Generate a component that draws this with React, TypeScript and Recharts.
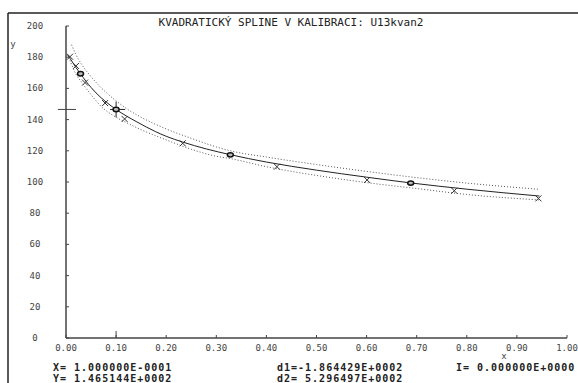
import React from 'react';
import { ComposedChart, Line, Scatter, XAxis, YAxis, ReferenceLine } from 'recharts';

// Fitted quadratic spline (solid)
const splineX = [0.003, 0.01, 0.02, 0.029, 0.04, 0.05, 0.06, 0.07, 0.08, 0.09, 0.1, 0.12, 0.14, 0.16, 0.178, 0.2, 0.233, 0.28, 0.328, 0.4, 0.5, 0.6, 0.688, 0.8, 0.945];
const splineY = [181.5, 178.3, 173.3, 169.4, 164.5, 160.6, 157.1, 154.0, 151.3, 148.8, 146.5, 142.4, 138.8, 135.3, 132.4, 129.3, 125.6, 121.2, 117.5, 112.8, 107.6, 103.1, 99.4, 95.4, 91.0];

// Confidence band (dotted)
const upperX = [0.011, 0.02, 0.03, 0.05, 0.07, 0.1, 0.121, 0.15, 0.2, 0.25, 0.3, 0.328, 0.4, 0.5, 0.6, 0.7, 0.8, 0.945];
const upperY = [188.0, 181.5, 176.0, 167.5, 160.5, 152.0, 147.0, 141.5, 134.0, 128.0, 122.5, 120.0, 116.0, 111.2, 106.8, 102.8, 99.3, 95.3];
const lowerX = [0.008, 0.02, 0.03, 0.05, 0.07, 0.1, 0.121, 0.15, 0.2, 0.25, 0.3, 0.328, 0.4, 0.5, 0.6, 0.7, 0.8, 0.945];
const lowerY = [178.0, 169.0, 164.5, 156.0, 148.5, 141.5, 138.0, 133.5, 127.0, 121.0, 116.5, 115.0, 109.8, 104.2, 99.6, 95.8, 92.0, 88.5];

// Measured points (x markers)
const measX = [0.008, 0.02, 0.038, 0.078, 0.117, 0.233, 0.421, 0.601, 0.775, 0.943];
const measY = [180.3, 174.4, 163.7, 150.6, 140.4, 124.8, 109.8, 101.3, 94.4, 89.5];

// Knots (small rings)
const knotX = [0.029, 0.1, 0.328, 0.688];
const knotY = [169.4, 146.5, 117.4, 99.3];

const xTicks = [0, 0.1, 0.2, 0.3, 0.4, 0.5, 0.6, 0.7, 0.8, 0.9, 1.0];
const yTicks = [0, 20, 40, 60, 80, 100, 120, 140, 160, 180, 200];

const cursorX = 0.1;
const cursorY = 146.5144;

const title = 'KVADRATICKÝ SPLINE V KALIBRACI: U13kvan2';
const infoX = 'X= 1.000000E-0001';
const infoY = 'Y= 1.465144E+0002';
const infoD1 = 'd1=-1.864429E+0002';
const infoD2 = 'd2= 5.296497E+0002';
const infoI = 'I= 0.000000E+0000';

const zip = (xs: number[], ys: number[]) => xs.map((x, i) => ({ x, y: ys[i] }));
const splineData = zip(splineX, splineY);
const upperData = zip(upperX, upperY);
const lowerData = zip(lowerX, lowerY);
const measData = zip(measX, measY);
const knotData = zip(knotX, knotY);

const MONO = '"DejaVu Sans Mono", "Liberation Mono", monospace';

const XTick = (props: any) => {
  const { x, y, payload } = props;
  return (
    <g>
      <line x1={x} y1={y} x2={x} y2={y - 3} stroke="#444" strokeWidth={1} />
      <text x={x} y={y + 13} textAnchor="middle" fontFamily={MONO} fontSize={9} fill="#444">
        {Number(payload.value).toFixed(2)}
      </text>
    </g>
  );
};

const YTick = (props: any) => {
  const { x, y, payload } = props;
  return (
    <g>
      <line x1={x} y1={y} x2={x + 3} y2={y} stroke="#444" strokeWidth={1} />
      <text x={35} y={y + 3} textAnchor="middle" fontFamily={MONO} fontSize={9} fill="#444">
        {payload.value}
      </text>
    </g>
  );
};

const CrossShape = (props: any) => {
  const { cx, cy } = props;
  return (
    <g stroke="#333" strokeWidth={1}>
      <line x1={cx - 3} y1={cy - 3} x2={cx + 3} y2={cy + 3} />
      <line x1={cx - 3} y1={cy + 3} x2={cx + 3} y2={cy - 3} />
    </g>
  );
};

const KnotShape = (props: any) => {
  const { cx, cy } = props;
  return <ellipse cx={cx} cy={cy} rx={3} ry={2.2} fill="#bbb" stroke="#111" strokeWidth={1.5} />;
};

export default function App() {
  return (
    <div style={{ position: 'absolute', left: 0, top: 0, width: 578, height: 383, background: '#fff', overflow: 'hidden' }}>
      <ComposedChart width={578} height={383} margin={{ top: 26, right: 11, left: 0, bottom: 0 }}>
        <XAxis
          dataKey="x"
          type="number"
          domain={[0, 1]}
          ticks={xTicks}
          interval={0}
          tickSize={0}
          tickMargin={0}
          height={45}
          allowDataOverflow
          axisLine={{ stroke: '#444', strokeWidth: 1.5 }}
          tickLine={false}
          tick={<XTick />}
        />
        <YAxis
          dataKey="y"
          type="number"
          domain={[0, 200]}
          ticks={yTicks}
          interval={0}
          tickSize={0}
          tickMargin={0}
          width={66}
          allowDataOverflow
          axisLine={{ stroke: '#444', strokeWidth: 1.5 }}
          tickLine={false}
          tick={<YTick />}
        />
        <Line data={upperData} dataKey="y" type="monotone" stroke="#555" strokeWidth={1} strokeDasharray="1 2" dot={false} isAnimationActive={false} />
        <Line data={lowerData} dataKey="y" type="monotone" stroke="#555" strokeWidth={1} strokeDasharray="1 2" dot={false} isAnimationActive={false} />
        <Line data={splineData} dataKey="y" type="monotone" stroke="#222" strokeWidth={1} dot={false} isAnimationActive={false} />
        <Scatter data={measData} dataKey="y" shape={<CrossShape />} isAnimationActive={false} />
        <Scatter data={knotData} dataKey="y" shape={<KnotShape />} isAnimationActive={false} />
        <ReferenceLine segment={[{ x: cursorX - 0.012, y: cursorY }, { x: cursorX + 0.018, y: cursorY }]} stroke="#222" ifOverflow="visible" />
        <ReferenceLine segment={[{ x: cursorX, y: cursorY - 5 }, { x: cursorX, y: cursorY + 5 }]} stroke="#222" ifOverflow="visible" />
        <ReferenceLine segment={[{ x: -0.016, y: cursorY }, { x: 0.02, y: cursorY }]} stroke="#444" ifOverflow="visible" />
        <ReferenceLine segment={[{ x: cursorX, y: 0 }, { x: cursorX, y: 4.5 }]} stroke="#444" ifOverflow="visible" />
      </ComposedChart>
      <svg width={578} height={383} style={{ position: 'absolute', left: 0, top: 0, pointerEvents: 'none' }}>
        <line x1={8} y1={13} x2={578} y2={13} stroke="#222" strokeWidth={1.5} />
        <line x1={8} y1={13} x2={8} y2={383} stroke="#222" strokeWidth={1.5} />
        <text x={291} y={26} textAnchor="middle" fontFamily={MONO} fontSize={11} fill="#222">{title}</text>
        <text x={13} y={47} textAnchor="middle" fontFamily={MONO} fontSize={9} fill="#444">y</text>
        <text x={504} y={359} textAnchor="middle" fontFamily={MONO} fontSize={9} fill="#444">x</text>
        <g fontFamily={MONO} fontSize={10} fontWeight="bold" fill="#222" letterSpacing={1}>
          <text x={53} y={370.5}>{infoX}</text>
          <text x={53} y={382}>{infoY}</text>
          <text x={277} y={370.5}>{infoD1}</text>
          <text x={277} y={382}>{infoD2}</text>
          <text x={456} y={370.5}>{infoI}</text>
        </g>
      </svg>
    </div>
  );
}
